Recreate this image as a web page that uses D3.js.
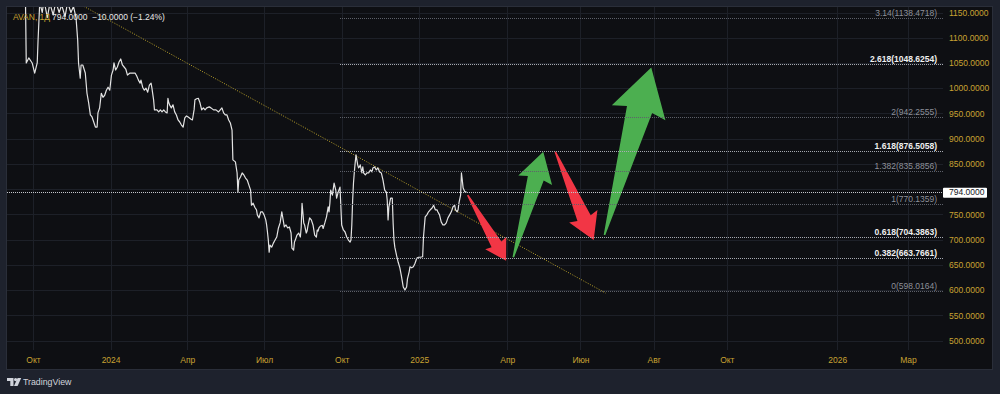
<!DOCTYPE html>
<html lang="ru">
<head>
<meta charset="UTF-8" />
<script src="https://cdnjs.cloudflare.com/ajax/libs/d3/7.8.5/d3.min.js"></script>
<title>AVAN</title>
<style>
  html, body { margin: 0; padding: 0; background: #1e222d; }
  svg { display: block; font-family: "Liberation Sans", Arial, sans-serif; }
</style>
</head>
<body>
<svg id="chart" width="1000" height="394"></svg>
<script>
// дневные цены закрытия AVAN
const series = [
  ["2023-09-22",1185],["2023-09-23",1050],["2023-09-26",1060],["2023-09-30",1050],
  ["2023-10-03",1030],["2023-10-06",1050],["2023-10-07",1095],["2023-10-09",1170],
  ["2023-10-12",1150],["2023-10-14",1175],["2023-10-18",1140],["2023-10-21",1168],
  ["2023-10-25",1145],["2023-10-28",1172],["2023-11-01",1150],["2023-11-04",1165],
  ["2023-11-08",1142],["2023-11-11",1170],["2023-11-15",1150],["2023-11-18",1162],
  ["2023-11-21",1140],["2023-11-23",1095],["2023-11-24",1050],["2023-11-26",1020],
  ["2023-11-27",1046],["2023-11-29",1046],["2023-12-02",1030],["2023-12-04",990],
  ["2023-12-06",971],["2023-12-08",947],["2023-12-10",943],["2023-12-12",933],
  ["2023-12-14",923],["2023-12-16",923],["2023-12-17",951],["2023-12-19",961],
  ["2023-12-21",990],["2023-12-23",982],["2023-12-25",986],["2023-12-27",996],
  ["2023-12-29",1002],["2023-12-31",996],["2024-01-02",1026],["2024-01-04",1036],
  ["2024-01-05",1050],["2024-01-07",1036],["2024-01-09",1042],["2024-01-11",1052],
  ["2024-01-13",1058],["2024-01-15",1046],["2024-01-17",1042],["2024-01-19",1038],
  ["2024-01-21",1026],["2024-01-24",1030],["2024-01-27",1030],["2024-01-30",1030],
  ["2024-02-01",1024],["2024-02-03",1016],["2024-02-05",1010],["2024-02-06",1016],
  ["2024-02-08",1002],["2024-02-10",996],["2024-02-12",1000],["2024-02-14",992],
  ["2024-02-16",1006],["2024-02-18",1010],["2024-02-19",1000],["2024-02-21",977],
  ["2024-02-22",957],["2024-02-25",957],["2024-02-27",953],["2024-02-29",957],
  ["2024-03-02",953],["2024-03-04",957],["2024-03-06",953],["2024-03-08",951],
  ["2024-03-09",980],["2024-03-10",971],["2024-03-11",967],["2024-03-13",961],
  ["2024-03-15",967],["2024-03-17",953],["2024-03-19",947],["2024-03-21",937],
  ["2024-03-23",933],["2024-03-25",927],["2024-03-27",923],["2024-03-29",941],
  ["2024-03-31",945],["2024-04-02",943],["2024-04-05",939],["2024-04-07",937],
  ["2024-04-09",957],["2024-04-10",977],["2024-04-12",979],["2024-04-14",980],
  ["2024-04-16",971],["2024-04-18",957],["2024-04-20",961],["2024-04-22",957],
  ["2024-04-24",961],["2024-04-27",963],["2024-04-29",961],["2024-05-02",957],
  ["2024-05-05",957],["2024-05-08",953],["2024-05-10",957],["2024-05-12",961],
  ["2024-05-14",951],["2024-05-16",947],["2024-05-18",947],["2024-05-20",937],
  ["2024-05-22",931],["2024-05-24",917],["2024-05-25",858],["2024-05-28",854],
  ["2024-05-30",832],["2024-05-31",794],["2024-06-01",818],["2024-06-03",824],
  ["2024-06-05",832],["2024-06-07",828],["2024-06-09",822],["2024-06-11",818],
  ["2024-06-13",808],["2024-06-15",798],["2024-06-16",768],["2024-06-18",772],
  ["2024-06-20",764],["2024-06-22",759],["2024-06-23",749],["2024-06-25",743],
  ["2024-06-27",755],["2024-06-29",755],["2024-07-01",749],["2024-07-03",739],
  ["2024-07-04",729],["2024-07-05",715],["2024-07-06",699],["2024-07-07",675],
  ["2024-07-08",689],["2024-07-10",685],["2024-07-12",693],["2024-07-14",699],
  ["2024-07-16",705],["2024-07-18",723],["2024-07-20",733],["2024-07-22",755],
  ["2024-07-23",745],["2024-07-25",725],["2024-07-27",729],["2024-07-29",723],
  ["2024-07-31",725],["2024-08-02",713],["2024-08-03",683],["2024-08-05",679],
  ["2024-08-06",695],["2024-08-07",699],["2024-08-09",709],["2024-08-11",713],
  ["2024-08-13",705],["2024-08-14",725],["2024-08-15",772],["2024-08-16",753],
  ["2024-08-17",733],["2024-08-18",729],["2024-08-20",713],["2024-08-21",717],
  ["2024-08-22",727],["2024-08-24",743],["2024-08-26",739],["2024-08-28",729],
  ["2024-08-30",709],["2024-09-01",705],["2024-09-02",719],["2024-09-03",717],
  ["2024-09-04",723],["2024-09-06",727],["2024-09-08",728],["2024-09-09",722],
  ["2024-09-11",733],["2024-09-13",745],["2024-09-15",765],["2024-09-16",755],
  ["2024-09-17",772],["2024-09-18",798],["2024-09-20",788],["2024-09-22",812],
  ["2024-09-24",798],["2024-09-25",782],["2024-09-27",795],["2024-09-29",804],
  ["2024-10-01",729],["2024-10-03",719],["2024-10-05",715],["2024-10-07",705],
  ["2024-10-09",699],["2024-10-11",695],["2024-10-12",699],["2024-10-13",729],
  ["2024-10-14",778],["2024-10-15",812],["2024-10-16",834],["2024-10-17",852],
  ["2024-10-18",868],["2024-10-19",858],["2024-10-20",848],["2024-10-21",842],
  ["2024-10-22",844],["2024-10-23",848],["2024-10-25",832],["2024-10-26",844],
  ["2024-10-27",832],["2024-10-29",828],["2024-10-31",832],["2024-11-02",832],
  ["2024-11-04",838],["2024-11-06",834],["2024-11-07",842],["2024-11-09",844],
  ["2024-11-11",838],["2024-11-13",842],["2024-11-15",834],["2024-11-17",832],
  ["2024-11-19",818],["2024-11-21",798],["2024-11-23",794],["2024-11-24",778],
  ["2024-11-25",739],["2024-11-26",765],["2024-11-28",782],["2024-11-30",782],
  ["2024-12-01",733],["2024-12-02",699],["2024-12-03",685],["2024-12-05",669],
  ["2024-12-07",655],["2024-12-09",644],["2024-12-11",626],["2024-12-13",606],
  ["2024-12-15",600],["2024-12-17",606],["2024-12-18",622],["2024-12-20",636],
  ["2024-12-21",646],["2024-12-23",644],["2024-12-25",646],["2024-12-27",653],
  ["2024-12-29",663],["2024-12-31",665],["2025-01-02",665],["2025-01-05",666],
  ["2025-01-06",705],["2025-01-08",745],["2025-01-10",749],["2025-01-12",755],
  ["2025-01-14",759],["2025-01-16",762],["2025-01-18",768],["2025-01-20",759],
  ["2025-01-22",759],["2025-01-23",755],["2025-01-25",749],["2025-01-27",735],
  ["2025-01-29",729],["2025-01-31",729],["2025-02-02",733],["2025-02-04",743],
  ["2025-02-06",749],["2025-02-08",755],["2025-02-10",765],["2025-02-12",768],
  ["2025-02-13",759],["2025-02-15",755],["2025-02-16",759],["2025-02-17",772],
  ["2025-02-19",788],["2025-02-20",832],["2025-02-21",818],["2025-02-22",802],
  ["2025-02-24",795],["2025-02-26",794]
];

const lastPrice = 794;
const legendName = "AVAN, 1Д";
const legendValues = "794.0000  −10.0000 (−1.24%)";

// шкала цены
const priceTicks = [500, 550, 600, 650, 700, 750, 800, 850, 900, 950, 1000, 1050, 1100, 1150];

// шкала времени
const timeTicks = ["2023-10-01","2024-01-01","2024-04-01","2024-07-01","2024-10-01","2025-01-01",
                   "2025-04-01","2025-06-01","2025-08-01","2025-10-01","2026-01-01","2026-03-01"];
const timeLabels = ["Окт","2024","Апр","Июл","Окт","2025","Апр","Июн","Авг","Окт","2026","Мар"];

// уровни Фибоначчи
const fibStart = "2024-09-29";
const fibRatios = ["0", "0.382", "0.618", "1", "1.382", "1.618", "2", "2.618", "3.14"];
const fibPrices = [598.0164, 663.7661, 704.3863, 770.1359, 835.8856, 876.5058, 942.2555, 1048.6254, 1138.4718];
const fibBright = ["0.382", "0.618", "1.618", "2.618"];

// линия тренда
const trendLine = [["2023-11-25", 1167], ["2025-06-22", 594]];

// стрелки: [хвост, острие]
const arrowsRed = [
  [["2025-02-27", 788], ["2025-03-31", 658]],
  [["2025-05-11", 874], ["2025-06-12", 699]]
];
const arrowsGreen = [
  [["2025-04-06", 665], ["2025-05-01", 874]],
  [["2025-06-21", 709], ["2025-07-30", 1041]]
];

const parse = d3.utcParse("%Y-%m-%d");
const svg = d3.select("#chart");

const panel = { left: 7, top: 7, right: 992, bottom: 369 };
const plot = { left: 7, top: 7, right: 943, bottom: 350 };

// прошлое и будущее у TradingView идут с разным шагом
const x = d3.scaleUtc()
  .domain([parse("2023-10-01"), parse("2025-02-26"), parse("2026-03-01")])
  .range([33, 466.5, 908]);
const y = d3.scaleLinear().domain([500, 1150]).range([340.5, 12.5]);

const P = d => [x(parse(d[0])), y(d[1])];

svg.append("rect").attr("width", 1000).attr("height", 394).attr("fill", "#1e222d");
svg.append("rect")
  .attr("x", panel.left - 0.5).attr("y", panel.top - 0.5)
  .attr("width", panel.right - panel.left + 1).attr("height", panel.bottom - panel.top + 1)
  .attr("fill", "#0e0f13").attr("stroke", "#2a2e39");

svg.append("clipPath").attr("id", "clip")
  .append("rect")
  .attr("x", plot.left).attr("y", plot.top)
  .attr("width", plot.right - plot.left).attr("height", plot.bottom - plot.top);

// сетка
const grid = svg.append("g").attr("stroke", "#1d2028").attr("stroke-width", 1);
grid.selectAll(".gh").data(priceTicks).join("line")
  .attr("x1", plot.left).attr("x2", plot.right)
  .attr("y1", d => Math.round(y(d)) + 0.5).attr("y2", d => Math.round(y(d)) + 0.5);
grid.selectAll(".gv").data(timeTicks).join("line")
  .attr("x1", d => Math.round(x(parse(d))) + 0.5).attr("x2", d => Math.round(x(parse(d))) + 0.5)
  .attr("y1", plot.top).attr("y2", plot.bottom);

const area = svg.append("g").attr("clip-path", "url(#clip)");

// фибо
const fib = svg.append("g");
fibPrices.forEach((p, i) => {
  const bright = fibBright.includes(fibRatios[i]);
  const yy = Math.round(y(p)) + 0.5;
  fib.append("line")
    .attr("x1", x(parse(fibStart))).attr("x2", plot.right)
    .attr("y1", yy).attr("y2", yy)
    .attr("stroke", bright ? "#a9acb4" : "#5f626b")
    .attr("stroke-dasharray", "1,1");
  fib.append("text")
    .attr("x", 937).attr("y", yy - 3)
    .attr("text-anchor", "end")
    .attr("font-size", 8.5)
    .attr("font-weight", bright ? "bold" : "normal")
    .attr("fill", bright ? "#f0f0f0" : "#8d9099")
    .text(`${fibRatios[i]}(${p.toFixed(4)})`);
});

// линия тренда
area.append("line")
  .attr("x1", P(trendLine[0])[0]).attr("y1", P(trendLine[0])[1])
  .attr("x2", P(trendLine[1])[0]).attr("y2", P(trendLine[1])[1])
  .attr("stroke", "#b9a12a").attr("stroke-width", 1)
  .attr("stroke-dasharray", "1,1.5");

// текущая цена
svg.append("line")
  .attr("x1", plot.left).attr("x2", plot.right)
  .attr("y1", Math.round(y(lastPrice)) + 0.5).attr("y2", Math.round(y(lastPrice)) + 0.5)
  .attr("stroke", "#c4c6cc").attr("stroke-dasharray", "1,1");

// цена
const line = d3.line().x(d => x(parse(d[0]))).y(d => y(d[1]));
area.append("path")
  .datum(series)
  .attr("d", line)
  .attr("fill", "none")
  .attr("stroke", "#e3e3e3")
  .attr("stroke-width", 1.2)
  .attr("stroke-linejoin", "round");

// стрелки
function arrowPoints(a) {
  const [tx, ty] = P(a[0]);
  const [hx, hy] = P(a[1]);
  const L = Math.hypot(hx - tx, hy - ty);
  const ux = (hx - tx) / L, uy = (hy - ty) / L;
  const nx = -uy, ny = ux;
  const bx = hx - ux * L * 0.25, by = hy - uy * L * 0.25;
  const wing = L * 0.16, neck = L * 0.075, tail = 0.8;
  return [
    [tx + nx * tail, ty + ny * tail],
    [bx + nx * neck, by + ny * neck],
    [bx + nx * wing - ux * L * 0.02, by + ny * wing - uy * L * 0.02],
    [hx, hy],
    [bx - nx * wing - ux * L * 0.02, by - ny * wing - uy * L * 0.02],
    [bx - nx * neck, by - ny * neck],
    [tx - nx * tail, ty - ny * tail]
  ].map(p => p.join(",")).join(" ");
}
area.selectAll(".ar").data(arrowsRed).join("polygon")
  .attr("points", arrowPoints).attr("fill", "#f23645");
area.selectAll(".ag").data(arrowsGreen).join("polygon")
  .attr("points", arrowPoints).attr("fill", "#4caf50");

// оси (подпись 800 закрыта меткой последней цены)
const gold = "#c9a232";
const yAxis = d3.axisRight(y)
  .tickValues(priceTicks.filter(d => Math.abs(y(d) - y(lastPrice)) > 8))
  .tickSize(0).tickPadding(6)
  .tickFormat(d => d.toFixed(4));
const gy = svg.append("g").attr("transform", `translate(${plot.right},0)`).call(yAxis);
gy.select(".domain").remove();
gy.selectAll("text").attr("fill", gold).attr("font-size", 8.5)
  .attr("font-family", "Liberation Sans, Arial, sans-serif");

const xAxis = d3.axisBottom(x).tickValues(timeTicks.map(parse)).tickSize(0).tickPadding(7)
  .tickFormat((d, i) => timeLabels[i]);
const gx = svg.append("g").attr("transform", `translate(0,${plot.bottom})`).call(xAxis);
gx.select(".domain").remove();
gx.selectAll("text").attr("fill", gold).attr("font-size", 8.5)
  .attr("font-family", "Liberation Sans, Arial, sans-serif");

// метка последней цены
const py = y(lastPrice);
svg.append("rect").attr("x", 943).attr("y", py - 4.5).attr("width", 44).attr("height", 10)
  .attr("fill", "#ffffff").attr("rx", 1);
svg.append("text").attr("x", 949).attr("y", py + 0.5).attr("dy", "0.32em")
  .attr("font-size", 8.5).attr("fill", "#131722").text(lastPrice.toFixed(4));

// легенда
svg.append("text").attr("x", 13).attr("y", 20).attr("font-size", 8.5)
  .attr("fill", gold).text(legendName);
svg.append("text").attr("x", 52).attr("y", 20).attr("font-size", 8.5)
  .attr("fill", "#e8e8e8").attr("xml:space", "preserve").text(legendValues);

// логотип
const logo = svg.append("g").attr("fill", "#d1d4dc");
logo.append("path").attr("d", "M7,378 h6.5 v8 h-3.2 v-5 h-3.3 z");
logo.append("circle").attr("cx", 15.6).attr("cy", 379.6).attr("r", 1.6);
logo.append("path").attr("d", "M17.6,378 h3.6 l-3.6,8 h-3.6 z");
svg.append("text").attr("x", 23).attr("y", 385).attr("font-size", 8.8)
  .attr("fill", "#d1d4dc").text("TradingView");
</script>
</body>
</html>
